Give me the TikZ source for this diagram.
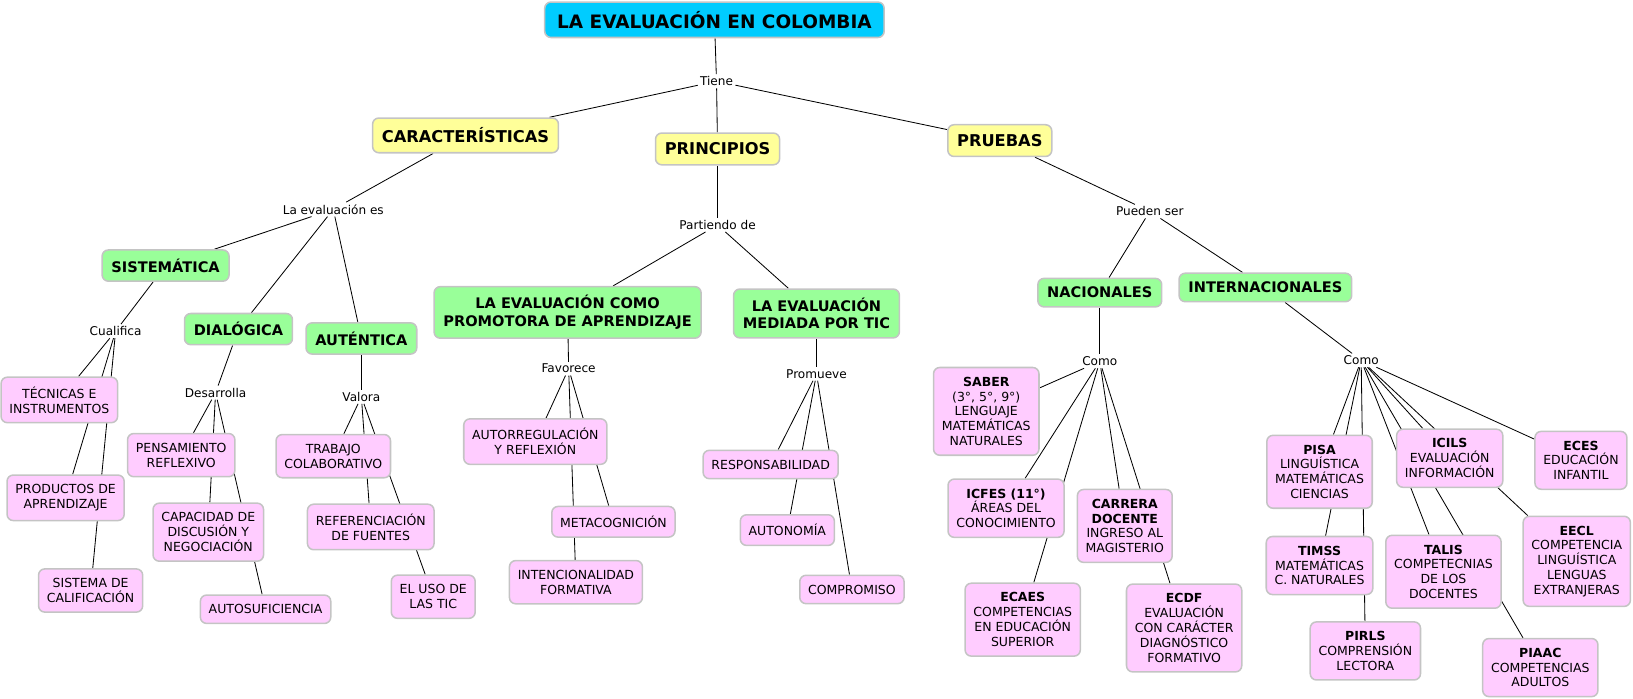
\documentclass[tikz,border=0pt]{standalone}
\usepackage{fontspec}
\setmainfont{DejaVu Sans}
\usetikzlibrary{shapes,positioning,backgrounds}
\definecolor{cian}{HTML}{00CCFF}
\definecolor{amarillo}{HTML}{FFFF99}
\definecolor{verde}{HTML}{99FF99}
\definecolor{rosa}{HTML}{FFCCFF}
\definecolor{borde}{HTML}{C4C4C4}
\tikzstyle{caja} = [rectangle, draw=borde, line width=1.1pt, rounded corners=4.5pt, align=center]
\tikzstyle{raiz} = [caja, fill=cian, font=\bfseries\fontsize{13.3}{15}\selectfont, inner xsep=9pt, inner ysep=6.5pt]
\tikzstyle{tema} = [caja, fill=amarillo, font=\bfseries\fontsize{11.7}{13}\selectfont, inner xsep=6.7pt, inner ysep=7pt]
\tikzstyle{rama} = [caja, fill=verde, font=\bfseries\fontsize{10.5}{12.7}\selectfont, inner xsep=6.7pt, inner ysep=6.3pt]
\tikzstyle{hoja} = [caja, fill=rosa, font=\fontsize{9}{10.7}\selectfont, inner xsep=6pt, inner ysep=6.8pt]
\tikzstyle{enlace} = [font=\fontsize{8.7}{10}\selectfont, inner sep=1.5pt]
\tikzstyle{conexion} = [draw, line width=0.6pt]

\begin{document}
\begin{tikzpicture}[x=0.75pt, y=-0.75pt]
        \useasboundingbox (0,0) rectangle (1568,671);
        % nivel 1
        \node[raiz]   (titulo) at (686,19)  {LA EVALUACIÓN EN COLOMBIA};
        \node[enlace] (tiene)  at (688,78)  {Tiene};
        \node[tema]   (carac)  at (447,130) {CARACTERÍSTICAS};
        \node[tema]   (princ)  at (689,143) {PRINCIPIOS};
        \node[tema]   (prueb)  at (960,135) {PRUEBAS};

        % caracteristicas
        \node[enlace] (evales) at (320,201) {La evaluación es};
        \node[rama]   (sist)   at (159,255) {SISTEMÁTICA};
        \node[rama]   (dialo)  at (229,316) {DIALÓGICA};
        \node[rama]   (auten)  at (347,325) {AUTÉNTICA};
        \node[enlace] (cualif) at (111,318) {Cualifica};
        \node[hoja]   (tecnic) at (57,384)  {TÉCNICAS E\\INSTRUMENTOS};
        \node[hoja]   (produc) at (63,478)  {PRODUCTOS DE\\APRENDIZAJE};
        \node[hoja]   (sistem) at (87,567)  {SISTEMA DE\\CALIFICACIÓN};
        \node[enlace] (desarr) at (207,377) {Desarrolla};
        \node[hoja]   (pensam) at (174,437) {PENSAMIENTO\\REFLEXIVO};
        \node[hoja]   (capaci) at (200,511) {CAPACIDAD DE\\DISCUSIÓN Y\\NEGOCIACIÓN};
        \node[hoja]   (autosu) at (255,585) {AUTOSUFICIENCIA};
        \node[enlace] (valora) at (347,381) {Valora};
        \node[hoja]   (trabaj) at (320,438) {TRABAJO\\COLABORATIVO};
        \node[hoja]   (refer)  at (356,506) {REFERENCIACIÓN\\DE FUENTES};
        \node[hoja]   (usotic) at (416,573) {EL USO DE\\LAS TIC};

        % principios
        \node[enlace] (partie) at (689,216) {Partiendo de};
        \node[rama]   (promot) at (545,300) {LA EVALUACIÓN COMO\\PROMOTORA DE APRENDIZAJE};
        \node[rama]   (mediad) at (784,301) {LA EVALUACIÓN\\MEDIADA POR TIC};
        \node[enlace] (favor)  at (546,354) {Favorece};
        \node[hoja]   (autorr) at (514,424) {AUTORREGULACIÓN\\Y REFLEXIÓN};
        \node[hoja]   (metaco) at (589,501) {METACOGNICIÓN};
        \node[hoja]   (intenc) at (553,559) {INTENCIONALIDAD\\FORMATIVA};
        \node[enlace] (promue) at (784,359) {Promueve};
        \node[hoja]   (respon) at (740,446) {RESPONSABILIDAD};
        \node[hoja]   (autono) at (756,509) {AUTONOMÍA};
        \node[hoja]   (compro) at (818,566) {COMPROMISO};

        % pruebas
        \node[enlace] (pueden) at (1104,203) {Pueden ser};
        \node[rama]   (nacio)  at (1056,281) {NACIONALES};
        \node[rama]   (inter)  at (1215,276) {INTERNACIONALES};
        \node[enlace] (comoN)  at (1056,347) {Como};
        \node[hoja]   (saber)  at (947,395)  {\textbf{SABER}\\(3°, 5°, 9°)\\LENGUAJE\\MATEMÁTICAS\\NATURALES};
        \node[hoja]   (icfes)  at (966,488)  {\textbf{ICFES (11°)}\\ÁREAS DEL\\CONOCIMIENTO};
        \node[hoja]   (carrera) at (1080,505) {\textbf{CARRERA}\\\textbf{DOCENTE}\\INGRESO AL\\MAGISTERIO};
        \node[hoja]   (ecaes)  at (982,595)  {\textbf{ECAES}\\COMPETENCIAS\\EN EDUCACIÓN\\SUPERIOR};
        \node[hoja]   (ecdf)   at (1137,603) {\textbf{ECDF}\\EVALUACIÓN\\CON CARÁCTER\\DIAGNÓSTICO\\FORMATIVO};
        \node[enlace] (comoI)  at (1307,346) {Como};
        \node[hoja]   (pisa)   at (1267,453) {\textbf{PISA}\\LINGUÍSTICA\\MATEMÁTICAS\\CIENCIAS};
        \node[hoja]   (timss)  at (1267,543) {\textbf{TIMSS}\\MATEMÁTICAS\\C. NATURALES};
        \node[hoja]   (pirls)  at (1311,625) {\textbf{PIRLS}\\COMPRENSIÓN\\LECTORA};
        \node[hoja]   (icils)  at (1392,440) {\textbf{ICILS}\\EVALUACIÓN\\INFORMACIÓN};
        \node[hoja]   (talis)  at (1386,549) {\textbf{TALIS}\\COMPETECNIAS\\DE LOS\\DOCENTES};
        \node[hoja]   (piaac)  at (1479,641) {\textbf{PIAAC}\\COMPETENCIAS\\ADULTOS};
        \node[hoja]   (eces)   at (1518,442) {\textbf{ECES}\\EDUCACIÓN\\INFANTIL};
        \node[hoja]   (eecl)   at (1514,539) {\textbf{EECL}\\COMPETENCIA\\LINGUÍSTICA\\LENGUAS\\EXTRANJERAS};

        \begin{pgfonlayer}{background}
        \path[conexion] (titulo) -- (tiene);
        \foreach \n in {carac,princ,prueb} \path[conexion] (tiene) -- (\n);
        \path[conexion] (carac) -- (evales);
        \foreach \n in {sist,dialo,auten} \path[conexion] (evales) -- (\n);
        \path[conexion] (sist) -- (cualif);
        \foreach \n in {tecnic,produc,sistem} \path[conexion] (cualif) -- (\n);
        \path[conexion] (dialo) -- (desarr);
        \foreach \n in {pensam,capaci,autosu} \path[conexion] (desarr) -- (\n);
        \path[conexion] (auten) -- (valora);
        \foreach \n in {trabaj,refer,usotic} \path[conexion] (valora) -- (\n);
        \path[conexion] (princ) -- (partie);
        \foreach \n in {promot,mediad} \path[conexion] (partie) -- (\n);
        \path[conexion] (promot) -- (favor);
        \foreach \n in {autorr,metaco,intenc} \path[conexion] (favor) -- (\n);
        \path[conexion] (mediad) -- (promue);
        \foreach \n in {respon,autono,compro} \path[conexion] (promue) -- (\n);
        \path[conexion] (prueb) -- (pueden);
        \foreach \n in {nacio,inter} \path[conexion] (pueden) -- (\n);
        \path[conexion] (nacio) -- (comoN);
        \foreach \n in {saber,icfes,carrera,ecaes,ecdf} \path[conexion] (comoN) -- (\n);
        \path[conexion] (inter) -- (comoI);
        \foreach \n in {pisa,timss,pirls,icils,talis,piaac,eces,eecl} \path[conexion] (comoI) -- (\n);
        \end{pgfonlayer}
      \end{tikzpicture}
\end{document}
